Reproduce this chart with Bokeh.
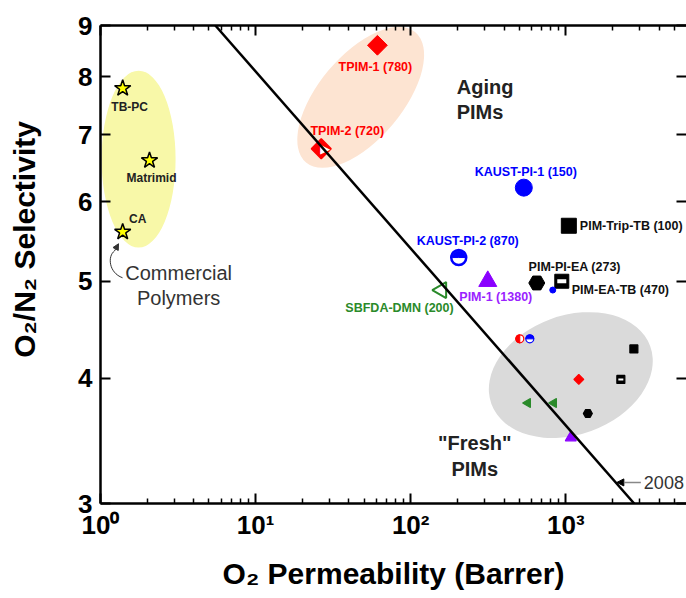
import math
from bokeh.plotting import figure
from bokeh.models import FixedTicker, LogAxis, Arrow, NormalHead, Range1d, ColumnDataSource
from bokeh.core.properties import value
from bokeh.embed import file_html
from bokeh.resources import INLINE

FONT = "Liberation Sans"

# ---------------- data ----------------
y_tick_values = [3, 4, 5, 6, 7, 8, 9]
y_tick_labels = ["3", "4", "5", "6", "7", "8", "9"]
x_tick_values = [1, 10, 100, 1000]
x_tick_labels = ["10⁰", "10¹", "10²", "10³"]
x_minor_multipliers = [2, 3, 4, 5, 6, 7, 8, 9]

# commercial polymers
com_names = ["TB-PC", "Matrimid", "CA"]
com_perm = [1.39, 2.07, 1.39]
com_sel = [7.79, 6.60, 5.60]

# aged PIMs (label shows aging days)
aged_names = ["TPIM-1 (780)", "TPIM-2 (720)", "KAUST-PI-1 (150)", "PIM-Trip-TB (100)",
              "KAUST-PI-2 (870)", "PIM-1 (1380)", "PIM-PI-EA (273)", "PIM-EA-TB (470)",
              "SBFDA-DMN (200)"]
aged_perm = [61.0, 26.5, 536, 1046, 204, 314, 650, 942, 158]
aged_sel = [8.60, 6.78, 6.20, 5.68, 5.28, 5.00, 4.98, 5.00, 4.90]

# fresh PIMs
fresh_perm = [505, 586, 2747, 1213, 2264, 569, 837, 1387, 1077]
fresh_sel = [4.38, 4.38, 4.28, 3.99, 3.99, 3.78, 3.78, 3.69, 3.49]

# extra small point near PIM-EA-TB
extra_perm = [824]
extra_sel = [4.90]

# 2008 upper bound (end points)
bound_perm = [5.5, 2760]
bound_sel = [9.0, 3.0]

# ---------------- figure ----------------
p = figure(width=686, height=598, x_axis_type="log", y_axis_type="log",
           x_range=Range1d(1, 6000), y_range=Range1d(3, 9),
           output_backend="svg", toolbar_location=None,
           min_border_left=100, min_border_right=0, min_border_top=25, min_border_bottom=95)
p.outline_line_color = None
p.xgrid.visible = False
p.ygrid.visible = False
p.background_fill_color = "white"
p.border_fill_color = "white"

x_minor = [m * t for t in x_tick_values for m in x_minor_multipliers if m * t < 6000]


def style_axis(ax):
    ax.axis_line_width = 2.5
    ax.axis_line_color = "black"
    ax.major_tick_in = 10
    ax.major_tick_out = 0
    ax.minor_tick_in = 5
    ax.minor_tick_out = 0
    ax.major_tick_line_width = 2
    ax.minor_tick_line_width = 1.5
    ax.major_tick_line_color = "black"
    ax.minor_tick_line_color = "black"
    ax.major_label_text_font = FONT
    ax.major_label_text_font_style = "bold"
    ax.major_label_text_font_size = "26px"
    ax.major_label_text_color = "black"


xa = p.xaxis[0]
style_axis(xa)
xa.ticker = FixedTicker(ticks=x_tick_values, minor_ticks=x_minor)
xa.major_label_overrides = {float(v): t for v, t in zip(x_tick_values, x_tick_labels)}
xa.major_label_standoff = 6
xa.axis_label = "O₂ Permeability (Barrer)"
xa.axis_label_text_font = FONT
xa.axis_label_text_font_style = "bold"
xa.axis_label_text_font_size = "30px"
xa.axis_label_standoff = 14
xa.axis_label_text_color = "black"

ya = p.yaxis[0]
style_axis(ya)
ya.ticker = FixedTicker(ticks=y_tick_values, minor_ticks=[])
ya.major_label_overrides = {float(v): t for v, t in zip(y_tick_values, y_tick_labels)}
ya.major_label_standoff = 8
ya.axis_label = "\u00a0" * 6 + "O₂/N₂ Selectivity"
ya.axis_label_text_font = FONT
ya.axis_label_text_font_style = "bold"
ya.axis_label_text_font_size = "30px"
ya.axis_label_standoff = 34
ya.axis_label_text_color = "black"

top = LogAxis(ticker=FixedTicker(ticks=x_tick_values, minor_ticks=x_minor))
style_axis(top)
top.major_label_text_font_size = "1px"
top.major_label_text_alpha = 0
top.major_label_standoff = 0
p.add_layout(top, "above")

right = LogAxis(ticker=FixedTicker(ticks=y_tick_values, minor_ticks=[]))
style_axis(right)
right.axis_line_color = None
right.major_label_text_font_size = "1px"
right.major_label_text_alpha = 0
right.major_label_standoff = 0
p.add_layout(right, "right")

# ---------------- shaded regions ----------------
p.ellipse(x=[1.76], y=[6.62], width=[74], height=[177], angle=[0],
          width_units="screen", height_units="screen",
          fill_color="#f8f8a8", line_color=None)
p.ellipse(x=[47.6], y=[7.63], width=[170], height=[84], angle=[math.radians(50)],
          width_units="screen", height_units="screen",
          fill_color="#fde4d2", line_color=None)
p.ellipse(x=[1077], y=[4.03], width=[169], height=[119], angle=[math.radians(20)],
          width_units="screen", height_units="screen",
          fill_color="#dadada", line_color=None)

# ---------------- commercial ----------------
p.scatter(com_perm, com_sel, marker="star", size=17, fill_color="#ffff00",
          line_color="black", line_width=1.5)
p.text(x=com_perm, y=com_sel, text=com_names,
       x_offset=[7, 2, 15], y_offset=[19, 18, -13],
       text_align="center", text_baseline="middle",
       text_font=value(FONT), text_font_style="bold", text_font_size="12px",
       text_color="#222222")

# ---------------- aged PIMs ----------------
RED, BLUE, PURPLE, GREEN, BLACK = "#ff0000", "#0000ff", "#8a00ff", "#2a8a2a", "#000000"
aged_marker = ["square", "square", "circle", "square", "circle", "triangle", "hex", "square", "triangle"]
aged_size = [14, 14, 17, 15, 15, 18, 16, 14, 16]
aged_angle = [math.pi / 4, math.pi / 4, 0, 0, 0, 0, 0, 0, math.pi / 2]
aged_fill = [RED, RED, BLUE, BLACK, "white", PURPLE, BLACK, BLACK, "white"]
aged_line = [RED, RED, BLUE, BLACK, BLUE, PURPLE, BLACK, BLACK, GREEN]
aged_lw = [1, 1.5, 1, 1, 2.5, 1, 1, 1, 2]
src = ColumnDataSource(dict(x=aged_perm, y=aged_sel, m=aged_marker, s=aged_size, a=aged_angle,
                            f=aged_fill, l=aged_line, w=aged_lw))
p.scatter(x="x", y="y", marker="m", size="s", angle="a", fill_color="f", line_color="l",
          line_width="w", source=src)
# half-filled details
p.wedge(x=[aged_perm[4]], y=[aged_sel[4]], radius=6.5, radius_units="screen",
        start_angle=0, end_angle=math.pi, color=BLUE)
p.rect(x=[aged_perm[7]], y=[aged_sel[7]], width=9, height=4, width_units="screen",
       height_units="screen", fill_color="white", line_color=None)
p.text(x=[aged_perm[1]], y=[aged_sel[1]], text=["▶"], x_offset=[-1], y_offset=[0],
       text_align="left", text_baseline="middle", text_font=value("DejaVu Sans"),
       text_font_size="13px", text_color="white")

aged_label_color = [RED, RED, BLUE, "#111111", BLUE, "#9a22ff", "#111111", "#111111", GREEN]
aged_dx = [-2, 26, 2, 11, 9, 8, 38, 10, -42]
aged_dy = [22, -18, -16, 0, -17, 16, -16, 9, 18]
aged_align = ["center", "center", "center", "left", "center", "center", "center", "left", "center"]
p.text(x=aged_perm, y=aged_sel, text=aged_names, x_offset=aged_dx, y_offset=aged_dy,
       text_align=aged_align, text_baseline="middle", text_color=aged_label_color,
       text_font=value(FONT), text_font_style="bold", text_font_size="12.5px")

p.scatter(extra_perm, extra_sel, marker="circle", size=6, color=BLUE)

# ---------------- fresh PIMs ----------------
fresh_marker = ["circle", "circle", "square", "square", "square", "triangle", "triangle", "hex", "triangle"]
fresh_size = [8, 8, 8, 7, 8, 9, 9, 9, 11]
fresh_angle = [0, 0, 0, math.pi / 4, 0, math.pi / 2, math.pi / 2, 0, 0]
fresh_fill = ["white", "white", BLACK, RED, BLACK, GREEN, GREEN, BLACK, PURPLE]
fresh_line = [RED, BLUE, BLACK, RED, BLACK, GREEN, GREEN, BLACK, PURPLE]
fsrc = ColumnDataSource(dict(x=fresh_perm, y=fresh_sel, m=fresh_marker, s=fresh_size,
                             a=fresh_angle, f=fresh_fill, l=fresh_line))
p.scatter(x="x", y="y", marker="m", size="s", angle="a", fill_color="f", line_color="l",
          line_width=1.2, source=fsrc)
p.wedge(x=[fresh_perm[0]], y=[fresh_sel[0]], radius=4, radius_units="screen",
        start_angle=math.pi / 2, end_angle=3 * math.pi / 2, color=RED)
p.wedge(x=[fresh_perm[1]], y=[fresh_sel[1]], radius=4, radius_units="screen",
        start_angle=0, end_angle=math.pi, color=BLUE)
p.rect(x=[fresh_perm[4]], y=[fresh_sel[4]], width=5, height=2, width_units="screen",
       height_units="screen", fill_color="white", line_color=None)

# ---------------- 2008 upper bound ----------------
p.line(bound_perm, bound_sel, line_width=2.5, color="black")

# ---------------- annotations ----------------
p.text(x=[198, 198], y=[7.82, 7.37], text=["Aging", "PIMs"], text_align="left",
       text_baseline="middle", text_font=value(FONT), text_font_style="bold",
       text_font_size="20px", text_color="#222222")
p.text(x=[259, 259], y=[3.45, 3.25], text=['"Fresh"', "PIMs"], text_align="center",
       text_baseline="middle", text_font=value(FONT), text_font_style="bold",
       text_font_size="20px", text_color="#222222")
p.text(x=[3.19, 3.19], y=[5.10, 4.81], text=["Commercial", "Polymers"], text_align="center",
       text_baseline="middle", text_font=value(FONT), text_font_size="20px",
       text_color="#333333")
p.text(x=[3186], y=[3.149], text=["2008"], text_align="left", text_baseline="middle",
       text_font=value(FONT), text_font_size="18px", text_color="#333333")

p.bezier(x0=[1.387], y0=[5.04], x1=[1.231], y1=[5.36], cx0=[1.126], cy0=[5.10],
         cx1=[1.109], cy1=[5.30], line_color="#333333", line_width=1)
p.add_layout(Arrow(x_start=1.231, y_start=5.36, x_end=1.307, y_end=5.45,
                   line_color="#333333", line_width=1,
                   end=NormalHead(size=6, fill_color="#333333", line_color="#333333")))
p.add_layout(Arrow(x_start=3048, y_start=3.149, x_end=2133, y_end=3.149,
                   line_color="#888888", line_width=1.5,
                   end=NormalHead(size=7, fill_color="black", line_color="black")))

open("out.html", "w").write(file_html(p, INLINE))
